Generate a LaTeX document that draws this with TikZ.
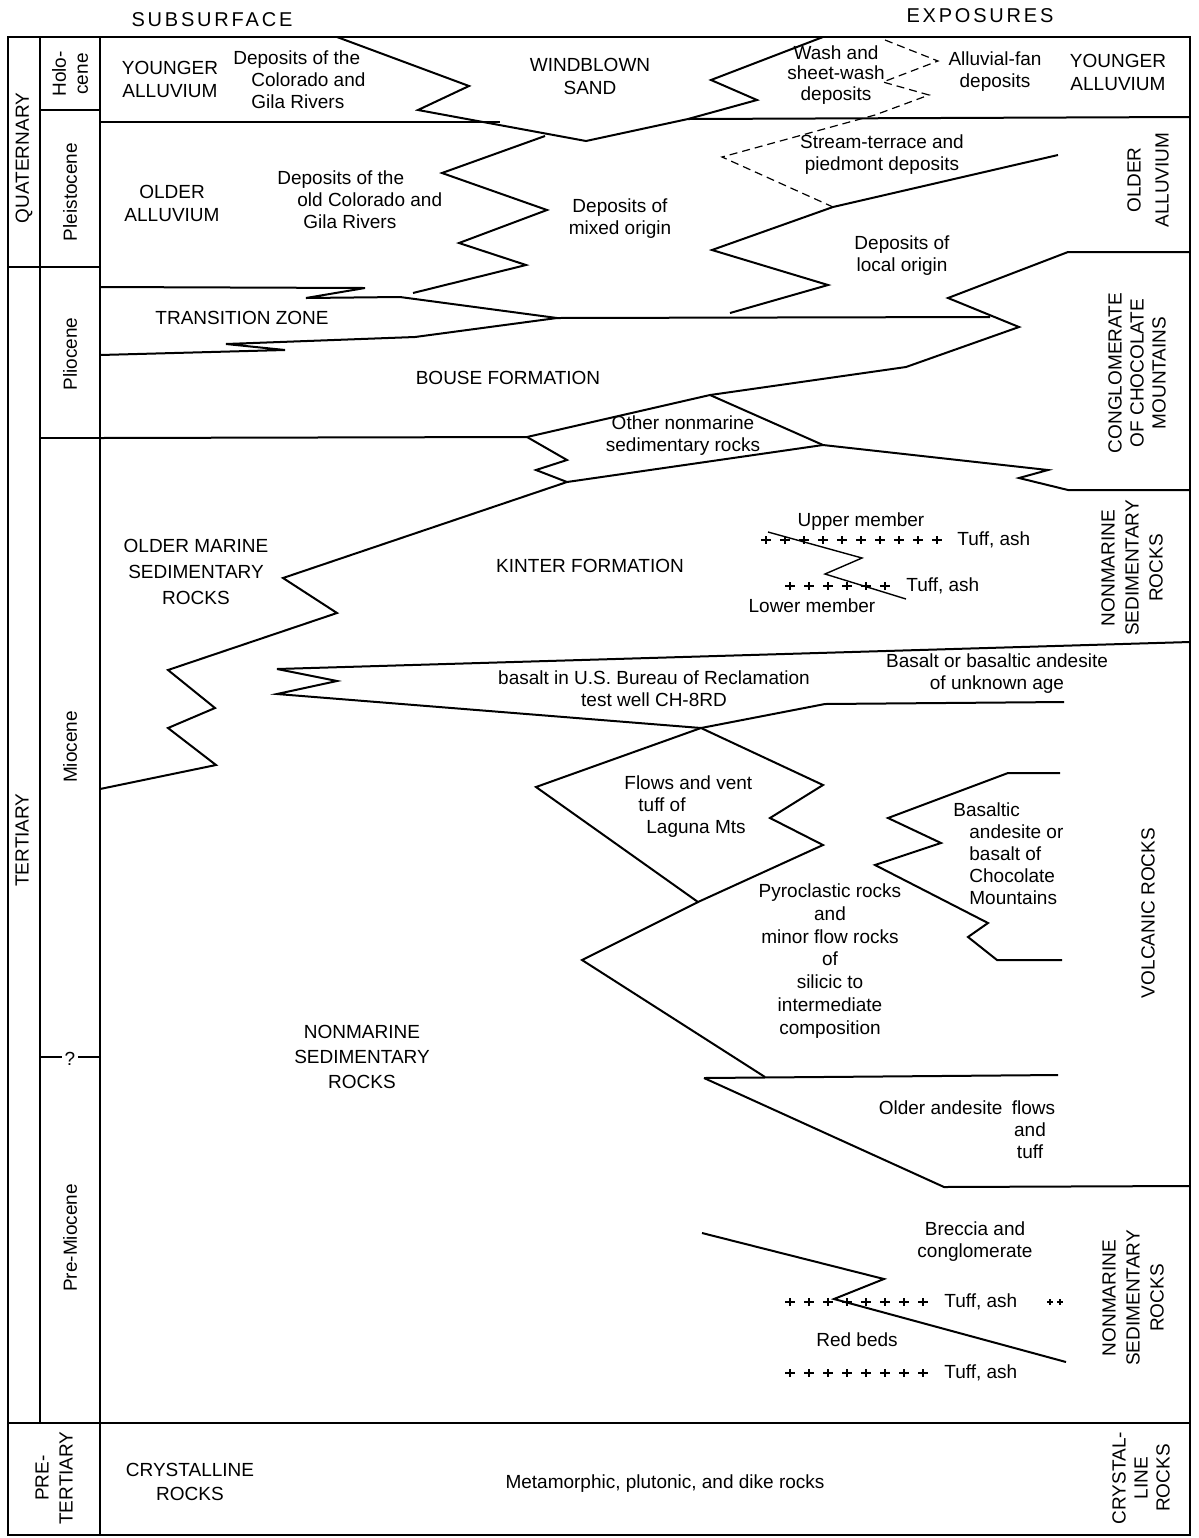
\documentclass[tikz,border=0pt]{standalone}
\usepackage{fontspec}
\setmainfont{Liberation Sans}
\newfontfamily\hdrfont{Liberation Sans}[LetterSpace=14]
\begin{document}
\begin{tikzpicture}[x=0.5pt,y=-0.5pt,
  geo/.style={line width=1pt,line join=miter},
  thn/.style={line width=0.7pt},
  frm/.style={line width=0.7pt},
  dsh/.style={line width=0.6pt,dash pattern=on 4pt off 2.5pt},
  tck/.style={line width=0.55pt},
  lbl/.style={font=\fontsize{9.5}{11}\selectfont,inner sep=0pt,align=center},
  capl/.style={font=\fontsize{9.5}{11.5}\selectfont,inner sep=0pt,align=center},
  rcap/.style={capl,rotate=90,font=\fontsize{9.5}{12}\selectfont},
  rlbl/.style={lbl,rotate=90},
  hdr/.style={font=\hdrfont\fontsize{10}{12}\selectfont,inner sep=0pt}
]
\fill[white] (0,0) rectangle (1199,1538);
\useasboundingbox (0,0) rectangle (1199,1538);

% ---------- frame ----------
\draw[frm] (8,37) rectangle (1190,1535);
\draw[frm] (40,37) -- (40,1423);
\draw[frm] (100,37) -- (100,1535);
\draw[frm] (40,110) -- (100,110);
\draw[frm] (8,267) -- (100,267);
\draw[frm] (40,438) -- (100,438);
\draw[frm] (40,1057) -- (62,1057) (78,1057) -- (100,1057);
\draw[geo] (8,1423) -- (1190,1423);

% ---------- headers ----------
\node[hdr] (sub) at (212,20) {SUBSURFACE};
\node[hdr] (exp) at (980,16) {EXPOSURES};

% ---------- age columns ----------
\node[rcap] (quat) at (24,158) {QUATERNARY};
\node[rcap] (tert) at (22,840) {TERTIARY};
\node[rcap] (pret) at (54,1478) {PRE-\\TERTIARY};
\node[rlbl] (holo) at (70,74) {Holo-\\cene};
\node[rlbl] (pleis) at (70,192) {Pleistocene};
\node[rlbl] (plio) at (70,354) {Pliocene};
\node[rlbl] (mio) at (70,747) {Miocene};
\node[lbl] (qm) at (70,1059) {?};
\node[rlbl] (premio) at (70,1238) {Pre-Miocene};

% ---------- Holocene ----------
\draw[geo] (100,122) -- (500,122);
\draw[geo] (337,37) -- (469,86) -- (418,110) -- (586,141) -- (688,119) -- (757,100) -- (711,80) -- (823,37);
\draw[geo] (688,119) -- (1190,117);
\draw[dsh] (885,40) -- (938,61) -- (883,82) -- (929,95) -- (875,115) -- (722,157) -- (833,207);

\node[capl] (ya1) at (170,79) {YOUNGER\\ALLUVIUM};
\node[lbl,align=left,anchor=west] (dcg) at (233,80) {Deposits of the\\\hspace*{9pt}Colorado and\\\hspace*{9pt}Gila Rivers};
\node[capl] (wind) at (590,76) {WINDBLOWN\\SAND};
\node[lbl,font=\fontsize{9.5}{10.2}\selectfont] (wash) at (836,75) {Wash and\\sheet-wash\\deposits};
\node[lbl] (fan) at (995,72) {Alluvial-fan\\deposits};
\node[capl] (ya2) at (1118,72) {YOUNGER\\ALLUVIUM};

% ---------- Pleistocene ----------
\draw[geo] (833,207) -- (1058,155);
\draw[geo] (833,207) -- (712,250) -- (828,285) -- (730,313);
\draw[geo] (545,136) -- (442,173) -- (547,210) -- (459,243) -- (526,265) -- (413,293);

\node[capl] (oa1) at (172,203) {OLDER\\ALLUVIUM};
\node[lbl,align=left,anchor=west] (docg) at (277,200) {Deposits of the\\\hspace*{10pt}old Colorado and\\\hspace*{13pt}Gila Rivers};
\node[lbl] (mixed) at (620,219) {Deposits of\\mixed origin};
\node[lbl] (stream) at (882,155) {Stream-terrace and\\piedmont deposits};
\node[lbl] (local) at (902,256) {Deposits of\\local origin};
\node[rcap,font=\fontsize{9.5}{14}\selectfont] (oa2) at (1148,180) {OLDER\\ALLUVIUM};

% ---------- Pliocene ----------
\draw[geo] (100,287) -- (365,288) -- (306,298) -- (400,297) -- (557,318);
\draw[geo] (100,355) -- (285,350) -- (226,344) -- (415,337) -- (557,318);
\draw[geo] (557,318) -- (990,317);
\draw[geo] (1190,252) -- (1068,252) -- (948,298) -- (1019,327) -- (906,367) -- (710,395) -- (527,437);
\draw[geo] (100,438) -- (527,437);

\node[capl] (trans) at (242,318) {TRANSITION ZONE};
\node[capl] (bouse) at (508,378) {BOUSE FORMATION};
\node[rcap,font=\fontsize{9.5}{11}\selectfont] (cong) at (1137,373) {CONGLOMERATE\\OF CHOCOLATE\\MOUNTAINS};

% ---------- Miocene ----------
\draw[geo] (710,395) -- (823,445) -- (1048,470) -- (1019,478) -- (1068,490) -- (1190,490);
\draw[geo] (527,437) -- (567,460) -- (536,470) -- (567,482) -- (823,445);
\draw[geo] (567,482) -- (283,578) -- (337,613) -- (168,670) -- (215,708) -- (168,728) -- (216,765) -- (100,789);
\draw[geo] (277,669) -- (1190,642);
\draw[geo] (277,669) -- (337,681) -- (277,694) -- (701,728) -- (825,704) -- (1064,702);
\draw[geo] (701,728) -- (536,787) -- (698,902) -- (823,845) -- (770,818) -- (823,785) -- cycle;
\draw[geo] (698,902) -- (582,960) -- (765,1077);
\draw[geo] (704,1078) -- (1058,1075);
\draw[geo] (704,1078) -- (944,1187) -- (1190,1186);
\draw[geo] (1060,773) -- (1008,773) -- (888,818) -- (941,843) -- (875,865) -- (988,923) -- (968,937) -- (997,960) -- (1062,960);
\draw[thn] (768,532) -- (862,558) -- (825,574) -- (906,599);

% tuff lines
\foreach \x in {766,785,...,946} \draw[tck] (\x-5,540) -- (\x+5,540) (\x,536) -- (\x,544);
\foreach \x in {790,809,...,896} \draw[tck] (\x-5,586) -- (\x+5,586) (\x,582) -- (\x,590);

\node[lbl] (othnm) at (683,436) {Other nonmarine\\sedimentary rocks};
\node[rcap] (nsr1) at (1132,568) {NONMARINE\\SEDIMENTARY\\ROCKS};
\node[capl,font=\fontsize{9.5}{13}\selectfont] (omsr) at (196,572) {OLDER MARINE\\SEDIMENTARY\\ROCKS};
\node[capl] (kinter) at (590,566) {KINTER FORMATION};
\node[lbl] (upper) at (861,522) {Upper member};
\node[lbl,anchor=west] (tuff1) at (957,540) {Tuff, ash};
\node[lbl,anchor=west] (tuff2) at (906,586) {Tuff, ash};
\node[lbl] (lower) at (812,606) {Lower member};
\node[lbl] (basw) at (654,689) {basalt in U.S. Bureau of Reclamation\\test well CH-8RD};
\node[lbl] (basu) at (997,674) {Basalt or basaltic andesite\\of unknown age};
\node[lbl,align=left,anchor=west] (lag) at (624,807) {Flows and vent\\\hspace*{7pt}tuff of\\\hspace*{11pt}Laguna Mts};
\node[lbl,align=left,anchor=west] (bchoc) at (953,854) {Basaltic\\\hspace*{8pt}andesite or\\\hspace*{8pt}basalt of\\\hspace*{8pt}Chocolate\\\hspace*{8pt}Mountains};
\node[lbl,font=\fontsize{9.5}{11.4}\selectfont] (pyro) at (830,961) {Pyroclastic rocks\\and\\minor flow rocks\\of\\silicic to\\intermediate\\composition};
\node[rcap] (volc) at (1148,913) {VOLCANIC ROCKS};
\node[capl,font=\fontsize{9.5}{12.5}\selectfont] (nsr2) at (362,1057) {NONMARINE\\SEDIMENTARY\\ROCKS};
\node[lbl] (olda) at (967,1108) {Older andesite\enspace flows};
\node[lbl] (oldb) at (1030,1141) {and\\tuff};

% ---------- Pre-Miocene ----------
\draw[geo] (702,1233) -- (884,1279) -- (834,1299) -- (1066,1362);
\foreach \x in {790,809,...,936} \draw[tck] (\x-5,1302) -- (\x+5,1302) (\x,1298) -- (\x,1306);
\foreach \x in {790,809,...,930} \draw[tck] (\x-5,1373) -- (\x+5,1373) (\x,1369) -- (\x,1377);
\foreach \x in {1050,1060} \draw[tck] (\x-3,1302) -- (\x+3,1302) (\x,1299) -- (\x,1305);

\node[lbl] (brec) at (975,1242) {Breccia and\\conglomerate};
\node[lbl,anchor=west] (tuff3) at (944,1302) {Tuff, ash};
\node[lbl] (red) at (857,1340) {Red beds};
\node[lbl,anchor=west] (tuff4) at (944,1373) {Tuff, ash};
\node[rcap] (nsr3) at (1133,1298) {NONMARINE\\SEDIMENTARY\\ROCKS};

% ---------- Pre-Tertiary ----------
\node[capl,font=\fontsize{9.5}{12}\selectfont] (cry) at (190,1482) {CRYSTALLINE\\ROCKS};
\node[lbl] (meta) at (665,1484) {Metamorphic, plutonic, and dike rocks};
\node[rcap,font=\fontsize{9.5}{11}\selectfont] (cry2) at (1141,1478) {CRYSTAL-\\LINE\\ROCKS};
\end{tikzpicture}
\end{document}
